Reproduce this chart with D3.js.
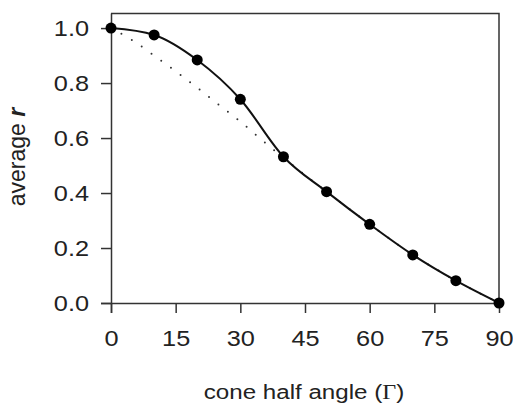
<!DOCTYPE html>
<html><head><meta charset="utf-8">
<script src="https://cdn.jsdelivr.net/npm/d3@7"></script>
<style>
html,body{margin:0;padding:0;background:#fff;}
svg text{font-family:"Liberation Sans",Arial,sans-serif;fill:#222;}
</style></head>
<body><svg id="chart" width="513" height="403"></svg>
<script>
// Data
const angles = [0, 10, 20, 30, 40, 50, 60, 70, 80, 90];
const avgR = [1.0, 0.975, 0.884, 0.741, 0.532, 0.405, 0.286, 0.175, 0.081, 0.0];
const theoryAngles = [0, 5, 10, 15, 20, 25, 30, 35, 40, 45, 50, 55, 60, 65, 70, 75, 80, 85, 90];
const theoryR = [1.0, 0.955, 0.90, 0.843, 0.783, 0.721, 0.660, 0.593, 0.528, 0.465, 0.405, 0.345, 0.286, 0.23, 0.175, 0.127, 0.081, 0.04, 0.0];
const xTicks = [0, 15, 30, 45, 60, 75, 90];
const yTicks = [0.0, 0.2, 0.4, 0.6, 0.8, 1.0];

const svg = d3.select("#chart");
const L = 111, R = 499, T = 13.5, B = 303;
const SX = 1.15; // horizontal stretch of the original lettering
const x = d3.scaleLinear().domain([0, 90]).range([L, R]);
const y = d3.scaleLinear().domain([0, 1.053]).range([B, T]);

// frame top/right
svg.append("path")
  .attr("d", `M${L},${T}H${R}V${B}`)
  .attr("fill", "none").attr("stroke", "#333").attr("stroke-width", 1.5);

const xAxis = svg.append("g").attr("transform", `translate(0,${B})`)
  .call(d3.axisBottom(x).tickValues(xTicks).tickSize(10).tickSizeOuter(0).tickPadding(17).tickFormat(d3.format("d")));
const yAxis = svg.append("g").attr("transform", `translate(${L},0)`)
  .call(d3.axisLeft(y).tickValues(yTicks).tickSize(10).tickSizeOuter(0).tickPadding(12).tickFormat(d3.format(".1f")));
[xAxis, yAxis].forEach(g => {
  g.select(".domain").attr("stroke", "#333").attr("stroke-width", 1.5);
  g.selectAll(".tick line").attr("stroke", "#333").attr("stroke-width", 1.5);
  g.selectAll(".tick text").attr("font-size", 22).attr("fill", "#222")
    .style("font-family", '"Liberation Sans",Arial,sans-serif')
    .attr("transform", `scale(${SX},1)`);
});
yAxis.selectAll(".tick text").attr("x", -22 / SX);
xAxis.select(".domain").attr("d", `M${L-10},0.5H${R}`);
yAxis.select(".domain").attr("d", `M0.5,${T}V${B+10}`);

// dotted theoretical curve
const dline = d3.line().x((d, i) => x(theoryAngles[i])).y(d => y(d)).curve(d3.curveMonotoneX);
svg.append("path").datum(theoryR).attr("d", dline)
  .attr("fill", "none").attr("stroke", "#333").attr("stroke-width", 2)
  .attr("stroke-linecap", "round").attr("stroke-dasharray", "0,12");

// solid data curve
const sline = d3.line().x((d, i) => x(angles[i])).y(d => y(d)).curve(d3.curveMonotoneX);
svg.append("path").datum(avgR).attr("d", sline)
  .attr("fill", "none").attr("stroke", "#111").attr("stroke-width", 2);

svg.selectAll("circle.pt").data(avgR).enter().append("circle")
  .attr("class", "pt")
  .attr("cx", (d, i) => x(angles[i])).attr("cy", d => y(d)).attr("r", 5.5)
  .attr("fill", "#000");

// axis titles
const xt = svg.append("text").attr("transform", `translate(304,399) scale(${SX},1)`)
  .attr("text-anchor", "middle").attr("font-size", 21);
xt.append("tspan").text("cone half angle (");
xt.append("tspan").style("font-family", '"Liberation Serif","Times New Roman",serif').text("Γ");
xt.append("tspan").text(")");

const yt = svg.append("text").attr("transform", "translate(25,157) rotate(-90)")
  .attr("text-anchor", "middle").attr("font-size", 23);
yt.append("tspan").text("average ");
yt.append("tspan").attr("font-style", "italic").attr("font-weight", "bold").text("r");
</script></body></html>
